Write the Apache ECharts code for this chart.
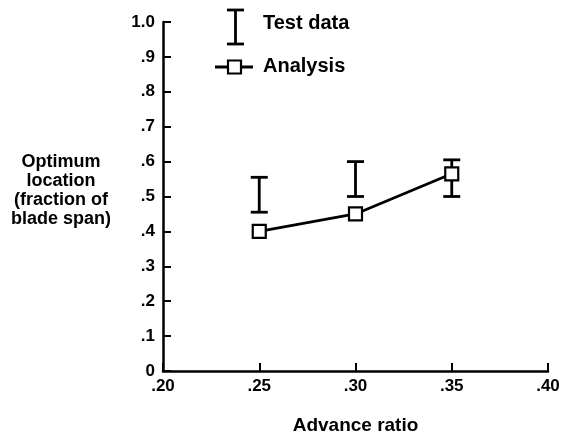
<!DOCTYPE html>
<html>
<head>
<meta charset="utf-8">
<script src="https://cdn.jsdelivr.net/npm/echarts@6/dist/echarts.min.js"></script>
<style>html,body{margin:0;padding:0;background:#fff}#c{width:564px;height:435px}</style>
</head>
<body>
<div id="c"></div>
<script>
const advanceRatio = [0.25, 0.30, 0.35];
const analysis = [0.40, 0.45, 0.565];
const testLow = [0.455, 0.50, 0.50];
const testHigh = [0.555, 0.60, 0.605];
const yTitle = 'Optimum\nlocation\n(fraction of\nblade span)';
const xTitle = 'Advance ratio';
const legendTest = 'Test data';
const legendAnalysis = 'Analysis';

const FONT = '"Liberation Sans", Arial, sans-serif';
const chart = echarts.init(document.getElementById('c'));
const errData = advanceRatio.map((x, i) => [x, testLow[i], testHigh[i]]);
const lineData = advanceRatio.map((x, i) => [x, analysis[i]]);

chart.setOption({
  animation: false,
  backgroundColor: '#fff',
  grid: { left: 163, right: 16, top: 22, bottom: 64, containLabel: false, outerBoundsMode: 'none' },
  xAxis: {
    type: 'value', min: 0.2, max: 0.4, interval: 0.05,
    name: xTitle, nameLocation: 'middle', nameGap: 45,
    nameTextStyle: { color: '#000', fontFamily: FONT, fontWeight: 'bold', fontSize: 19 },
    axisLine: { lineStyle: { color: '#000', width: 2.5 } },
    axisTick: { inside: true, length: 8, lineStyle: { color: '#000', width: 2 } },
    axisLabel: { color: '#000', fontFamily: FONT, fontWeight: 'bold', fontSize: 17, margin: 7,
      formatter: v => v.toFixed(2).replace(/^0/, '') },
    splitLine: { show: false }
  },
  yAxis: {
    type: 'value', min: 0, max: 1, interval: 0.1,
    axisLine: { lineStyle: { color: '#000', width: 2.5 } },
    axisTick: { inside: true, length: 8, lineStyle: { color: '#000', width: 2 } },
    axisLabel: { color: '#000', fontFamily: FONT, fontWeight: 'bold', fontSize: 17, margin: 8,
      formatter: v => v === 0 ? '0' : (Math.abs(v - 1) < 1e-9 ? '1.0' : v.toFixed(1).replace(/^0/, '')) },
    splitLine: { show: false }
  },
  series: [
    {
      type: 'custom',
      data: errData,
      renderItem: function (params, api) {
        const x = api.value(0);
        const lo = api.coord([x, api.value(1)]);
        const hi = api.coord([x, api.value(2)]);
        const hw = 8.5;
        const st = { stroke: '#000', lineWidth: 2.8 };
        return {
          type: 'group',
          children: [
            { type: 'line', shape: { x1: lo[0], y1: lo[1], x2: hi[0], y2: hi[1] }, style: st },
            { type: 'line', shape: { x1: lo[0] - hw, y1: lo[1], x2: lo[0] + hw, y2: lo[1] }, style: st },
            { type: 'line', shape: { x1: hi[0] - hw, y1: hi[1], x2: hi[0] + hw, y2: hi[1] }, style: st }
          ]
        };
      },
      z: 2
    },
    {
      type: 'line',
      data: lineData,
      symbol: 'rect', symbolSize: 13,
      lineStyle: { color: '#000', width: 2.8 },
      itemStyle: { color: '#fff', borderColor: '#000', borderWidth: 2.2 },
      z: 3
    }
  ],
  graphic: [
    { type: 'text', x: 61, y: 153, style: { text: yTitle, fill: '#000', font: 'bold 18px ' + FONT, align: 'center', verticalAlign: 'top', lineHeight: 19 } },
    { type: 'line', shape: { x1: 235.5, y1: 10, x2: 235.5, y2: 44 }, style: { stroke: '#000', lineWidth: 2.8 } },
    { type: 'line', shape: { x1: 227, y1: 10, x2: 244, y2: 10 }, style: { stroke: '#000', lineWidth: 2.8 } },
    { type: 'line', shape: { x1: 227, y1: 44, x2: 244, y2: 44 }, style: { stroke: '#000', lineWidth: 2.8 } },
    { type: 'text', left: 263, top: 13, style: { text: legendTest, fill: '#000', font: 'bold 20px ' + FONT } },
    { type: 'line', shape: { x1: 215, y1: 67, x2: 253, y2: 67 }, style: { stroke: '#000', lineWidth: 2.8 } },
    { type: 'rect', shape: { x: 228, y: 60.5, width: 13, height: 13 }, style: { fill: '#fff', stroke: '#000', lineWidth: 2.2 } },
    { type: 'text', left: 263, top: 56, style: { text: legendAnalysis, fill: '#000', font: 'bold 20px ' + FONT } }
  ]
});
</script>
</body>
</html>
